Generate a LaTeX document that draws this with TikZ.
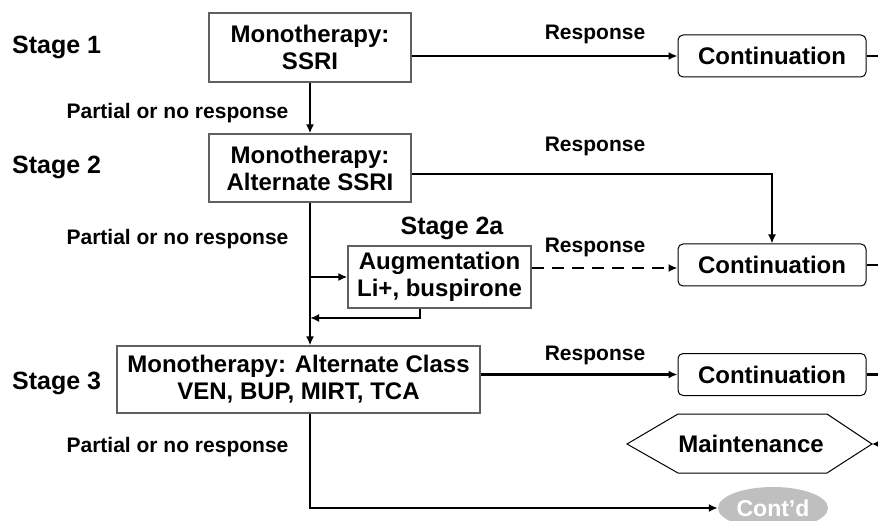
\documentclass[tikz,border=0pt]{standalone}
\usepackage{fontspec}
\setmainfont{Liberation Sans}
\usetikzlibrary{arrows.meta,shapes.geometric}
\definecolor{contgray}{HTML}{BFBFBF}
\definecolor{boxline}{HTML}{606060}
\begin{document}
\begin{tikzpicture}[x=1pt,y=-1pt,
  sq/.style={draw=boxline, line width=1.2pt, inner sep=0pt, align=center,
    font=\fontsize{24}{27}\selectfont\bfseries},
  rbox/.style={draw=black, line width=1pt, rounded corners=5pt,
    minimum width=188pt, minimum height=42pt, inner sep=0pt,
    font=\fontsize{24}{27}\selectfont\bfseries},
  stg/.style={anchor=base west, inner sep=0pt, font=\fontsize{25}{28}\selectfont\bfseries},
  lbl/.style={anchor=base, inner sep=0pt, font=\fontsize{21}{24}\selectfont\bfseries},
  conn/.style={line width=2.4pt, -{Latex[length=9pt,width=8pt]}},
  plainline/.style={line width=2.4pt},
  dashconn/.style={line width=2.4pt, dash pattern=on 12pt off 8pt, -{Latex[length=9pt,width=8pt]}}
]
\useasboundingbox (0,0) rectangle (878,521);

% stage labels
\node[stg] (st1) at (12,54) {Stage 1};
\node[stg] (st2) at (12,174) {Stage 2};
\node[stg] (st3) at (12,389) {Stage 3};
\node[stg, anchor=base] (st2a) at (452,235) {Stage 2a};

% boxes
\node[sq, minimum width=202pt, minimum height=69pt] (b1) at (310,47.5) {Monotherapy:\\SSRI};
\node[sq, minimum width=202pt, minimum height=68pt] (b2) at (310,168) {Monotherapy:\\Alternate SSRI};
\node[sq, minimum width=183pt, minimum height=62pt] (b2a) at (439.5,277) {Augmentation\\Li+, buspirone};
\node[sq, minimum width=363pt, minimum height=67pt] (b3) at (298.5,379.5) {Monotherapy: Alternate Class\\VEN, BUP, MIRT, TCA};

\node[rbox] (c1) at (772,56) {Continuation};
\node[rbox] (c2) at (772,265) {Continuation};
\node[rbox] (c3) at (772,374.5) {Continuation};

% maintenance hexagon
\node[inner sep=0pt, font=\fontsize{24}{27}\selectfont\bfseries] (maint) at (751,444) {Maintenance};
\coordinate (mtip) at (872,444);
\draw[line width=1pt, line join=miter] (627,444) -- (678,414) -- (827,414) -- (mtip) -- (827,473) -- (678,473) -- cycle;
\coordinate (mright) at (892,444);
\draw[line width=1.6pt, -{Latex[length=7pt,width=7pt]}] (mright) -- (mtip);

% cont'd
\node[ellipse, fill=contgray, minimum width=110pt, minimum height=42pt, inner sep=0pt,
  text=white, font=\fontsize{23}{26}\selectfont\bfseries] (contd) at (773,508) {Cont’d};

% labels
\node[lbl] (r1) at (595,40) {Response};
\node[lbl] (r2) at (595,152) {Response};
\node[lbl] (r2a) at (595,253) {Response};
\node[lbl] (r3) at (595,360) {Response};
\node[lbl] (p1) at (177.5,119) {Partial or no response};
\node[lbl] (p2) at (177.5,245) {Partial or no response};
\node[lbl] (p3) at (177.5,452) {Partial or no response};

% edge coordinates at right border
\coordinate (e1) at (880,56);
\coordinate (e2) at (880,265);
\coordinate (e3) at (880,374.5);

% connectors
\draw[conn] (b1.east |- c1.west) -- (c1.west);
\draw[plainline] (c1.east) -- (e1);
\draw[conn] (b1.south) -- (b2.north);
\draw[conn] ([yshift=-6pt]b2.east) -| (c2.north);
\draw[conn] (b2.south) -- (b2.south |- b3.north);
\draw[conn] (b2.south |- b2a.west) -- (b2a.west);
\coordinate (ret) at (420,318);
\draw[conn] (ret |- b2a.south) -- (ret) -- (b2.south |- ret);
\draw[dashconn] ([yshift=-3pt]b2a.east |- c2.west) -- ([yshift=-3pt]c2.west);
\draw[plainline] (c2.east) -- (e2);
\draw[conn] (b3.east |- c3.west) -- (c3.west);
\draw[plainline] (c3.east) -- (e3);
\draw[conn] (b2.south |- b3.south) -- (b2.south |- contd.west) -- (contd.west);
\end{tikzpicture}
\end{document}
